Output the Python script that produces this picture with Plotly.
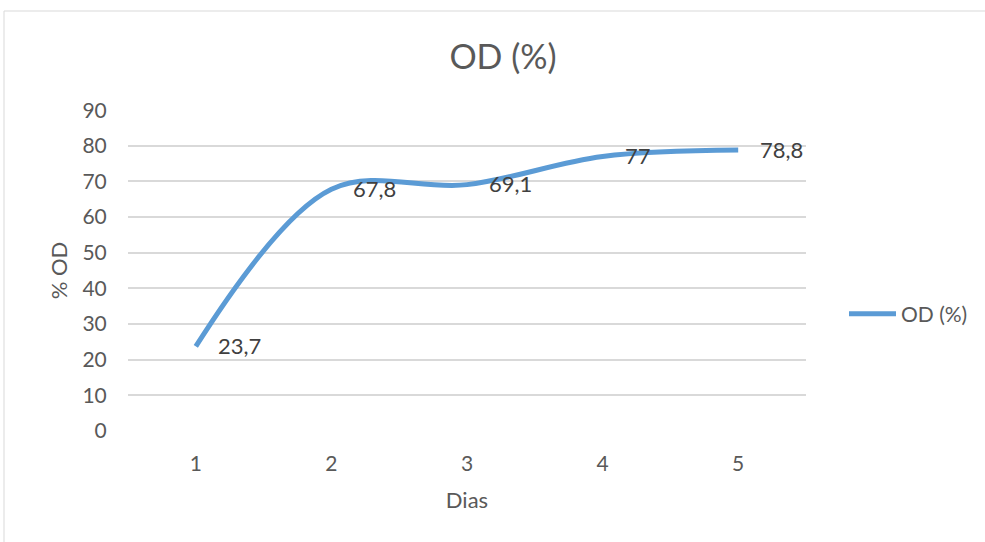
import plotly.graph_objects as go

dias = [1, 2, 3, 4, 5]
od = [23.7, 67.8, 69.1, 77, 78.8]
labels = ["23,7", "67,8", "69,1", "77", "78,8"]
y_ticks = [0, 10, 20, 30, 40, 50, 60, 70, 80, 90]

W, H = 985, 542
L, T = 128, 110
pw, ph = 678, 321
R, B = W - L - pw, H - T - ph

FONT = "Lato"
TXT = "#595959"

fig = go.Figure()
fig.add_trace(go.Scatter(
    x=dias, y=od, mode="lines", name="OD (%)",
    line=dict(color="#5B9BD5", width=5, shape="spline", smoothing=1),
))

for xv, yv, t in zip(dias, od, labels):
    fig.add_annotation(x=xv, y=yv, text=t, showarrow=False, xanchor="left",
                       yanchor="middle", xshift=20, yshift=1,
                       font=dict(family=FONT, size=22, color="#404040"))

# outer chart border
fig.add_shape(type="rect", xref="paper", yref="paper",
              x0=(4 - L) / pw, x1=(W + 20 - L) / pw,
              y0=-(B + 20) / ph, y1=(H - B - 11) / ph,
              line=dict(color="#D9D9D9", width=1), layer="below")

fig.update_layout(
    width=W, height=H,
    margin=dict(l=L, r=R, t=T, b=B),
    paper_bgcolor="white", plot_bgcolor="white",
    title=dict(text="OD (%)", x=503 / W, xanchor="center",
               y=1 - 57 / H, yanchor="middle",
               font=dict(family=FONT, size=34, color=TXT)),
    font=dict(family=FONT, size=21, color=TXT),
    showlegend=True,
    legend=dict(x=(844 - L) / pw, y=(H - B - 314) / ph, xanchor="left",
                yanchor="middle", font=dict(family=FONT, size=21, color=TXT),
                bgcolor="rgba(0,0,0,0)", itemwidth=47),
    xaxis=dict(range=[0.5, 5.5], tickvals=dias, ticktext=[str(d) for d in dias],
               showgrid=False, zeroline=False, showline=False,
               ticks="outside", ticklen=14, tickcolor="rgba(0,0,0,0)",
               tickfont=dict(family=FONT, size=21, color=TXT),
               title=dict(text="Dias", standoff=18,
                          font=dict(family=FONT, size=22, color=TXT))),
    yaxis=dict(range=[-0.05, 90.05], tickvals=y_ticks,
               showgrid=True, gridcolor="#D9D9D9", gridwidth=1.5,
               zeroline=False, showline=False,
               ticks="outside", ticklen=16, tickcolor="rgba(0,0,0,0)",
               tickfont=dict(family=FONT, size=21, color=TXT),
               title=dict(text="% OD", standoff=8,
                          font=dict(family=FONT, size=22, color=TXT))),
)

fig.write_html("out.html", config={"displayModeBar": False},
               post_script="document.body.style.margin='0';document.body.style.overflow='hidden';")
